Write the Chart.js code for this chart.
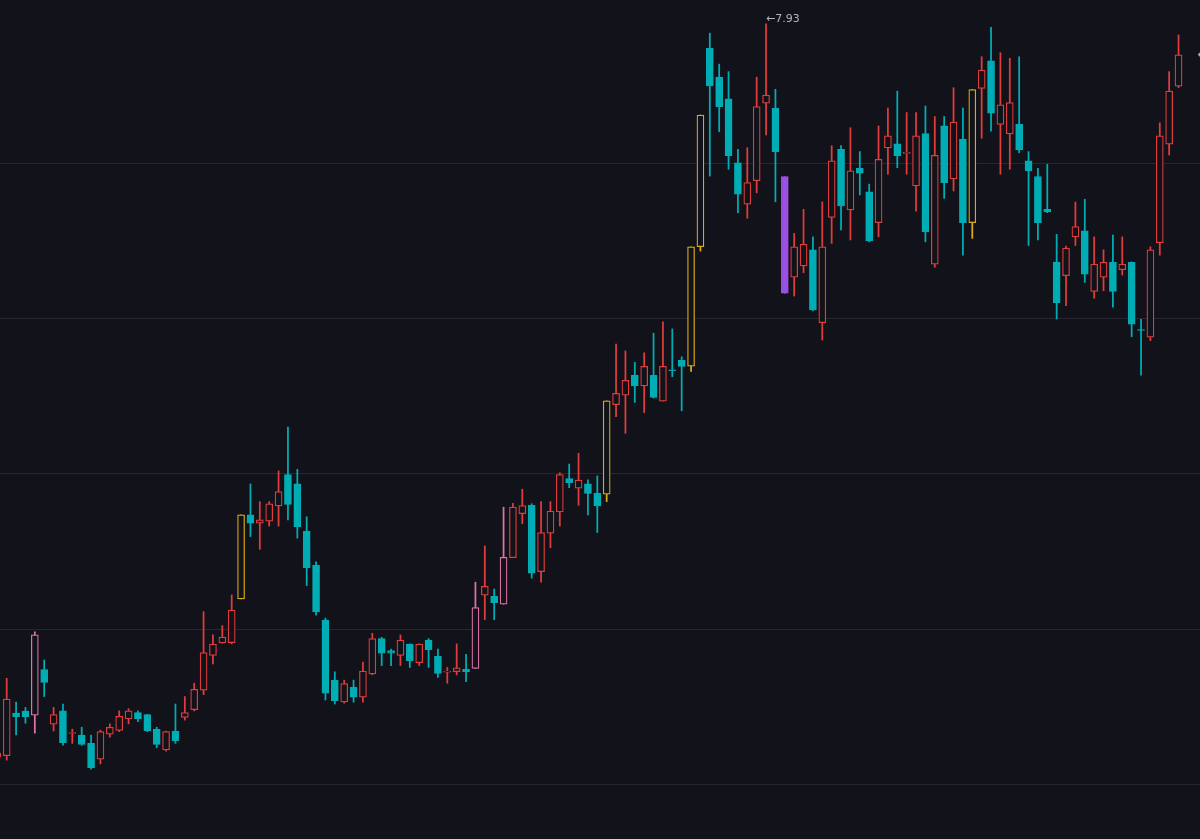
<!DOCTYPE html>
<html>
<head>
<meta charset="utf-8">
<script src="https://cdn.jsdelivr.net/npm/chart.js@4.4.1/dist/chart.umd.min.js"></script>
<style>
  html, body { margin: 0; padding: 0; background: #12131a; }
  #wrap { width: 1200px; height: 839px; position: relative; }
</style>
</head>
<body>
<div id="wrap"><canvas id="candles"></canvas></div>
<script>
// daily bars, oldest first (first one is cut by the left edge)
const openV = [
  5.587, 5.591, 5.729, 5.735, 5.722, 5.869, 5.693, 5.736, 5.663, 5.658,
  5.631, 5.580, 5.661, 5.673, 5.710, 5.730, 5.724, 5.676, 5.610, 5.670,
  5.715, 5.740, 5.803, 5.915, 5.955, 5.956, 6.097, 6.368, 6.341, 6.348,
  6.397, 6.498, 6.468, 6.316, 6.205, 6.029, 5.835, 5.765, 5.812, 5.780,
  5.855, 5.969, 5.930, 5.915, 5.951, 5.891, 5.964, 5.912, 5.861, 5.862,
  5.870, 5.873, 6.109, 6.105, 6.080, 6.230, 6.372, 6.399, 6.185, 6.309,
  6.378, 6.485, 6.454, 6.468, 6.438, 6.435, 6.724, 6.754, 6.818, 6.784,
  6.818, 6.735, 6.836, 6.867, 6.848, 7.233, 7.873, 7.780, 7.710, 7.504,
  7.370, 7.446, 7.696, 7.680, 7.459, 7.135, 7.171, 7.223, 6.988, 7.328,
  7.547, 7.352, 7.486, 7.410, 7.311, 7.552, 7.565, 7.534, 7.429, 7.598,
  7.177, 7.623, 7.452, 7.580, 7.311, 7.744, 7.833, 7.628, 7.597, 7.628,
  7.510, 7.459, 7.354, 7.184, 7.140, 7.265, 7.284, 7.089, 7.135, 7.183,
  7.159, 7.183, 6.966, 6.941, 7.246, 7.564, 7.751
];
const highV = [
  5.610, 5.841, 5.764, 5.747, 5.991, 5.900, 5.747, 5.758, 5.677, 5.683,
  5.658, 5.674, 5.694, 5.736, 5.743, 5.736, 5.725, 5.683, 5.671, 5.758,
  5.782, 5.825, 6.056, 5.981, 6.011, 6.110, 6.368, 6.468, 6.411, 6.411,
  6.510, 6.651, 6.515, 6.362, 6.217, 6.035, 5.862, 5.835, 5.835, 5.893,
  5.986, 5.973, 5.935, 5.981, 5.952, 5.952, 5.969, 5.935, 5.876, 5.952,
  5.918, 6.151, 6.268, 6.129, 6.393, 6.405, 6.451, 6.404, 6.411, 6.411,
  6.504, 6.532, 6.567, 6.481, 6.494, 6.736, 6.919, 6.897, 6.860, 6.891,
  6.954, 6.991, 6.968, 6.878, 7.233, 7.658, 7.922, 7.822, 7.798, 7.547,
  7.553, 7.780, 7.952, 7.741, 7.459, 7.276, 7.354, 7.265, 7.378, 7.559,
  7.559, 7.617, 7.540, 7.435, 7.623, 7.680, 7.735, 7.666, 7.666, 7.687,
  7.653, 7.653, 7.746, 7.680, 7.740, 7.846, 7.941, 7.859, 7.841, 7.846,
  7.540, 7.486, 7.499, 7.273, 7.235, 7.377, 7.386, 7.265, 7.223, 7.271,
  7.265, 7.184, 6.999, 7.233, 7.633, 7.798, 7.916
];
const lowV = [
  5.577, 5.577, 5.658, 5.696, 5.664, 5.782, 5.671, 5.625, 5.631, 5.625,
  5.548, 5.565, 5.651, 5.669, 5.694, 5.701, 5.669, 5.617, 5.606, 5.631,
  5.706, 5.736, 5.788, 5.887, 5.954, 5.952, 6.097, 6.298, 6.257, 6.332,
  6.332, 6.352, 6.293, 6.140, 6.045, 5.771, 5.758, 5.761, 5.764, 5.764,
  5.852, 5.882, 5.882, 5.882, 5.876, 5.882, 5.876, 5.844, 5.825, 5.852,
  5.830, 5.873, 6.030, 6.030, 6.080, 6.230, 6.340, 6.164, 6.151, 6.262,
  6.332, 6.456, 6.399, 6.368, 6.311, 6.411, 6.685, 6.631, 6.731, 6.698,
  6.745, 6.735, 6.814, 6.704, 6.831, 7.219, 7.461, 7.604, 7.483, 7.343,
  7.325, 7.407, 7.594, 7.378, 7.083, 7.074, 7.149, 7.026, 6.932, 7.244,
  7.287, 7.255, 7.400, 7.249, 7.265, 7.467, 7.488, 7.467, 7.348, 7.249,
  7.167, 7.389, 7.413, 7.206, 7.260, 7.583, 7.606, 7.467, 7.483, 7.536,
  7.237, 7.255, 7.343, 7.000, 7.043, 7.237, 7.118, 7.067, 7.091, 7.038,
  7.142, 6.943, 6.819, 6.930, 7.206, 7.529, 7.746
];
const closeV = [
  5.600, 5.774, 5.716, 5.716, 5.981, 5.828, 5.724, 5.633, 5.666, 5.628,
  5.553, 5.669, 5.683, 5.718, 5.736, 5.710, 5.672, 5.628, 5.669, 5.640,
  5.730, 5.805, 5.924, 5.951, 5.974, 6.061, 6.368, 6.341, 6.352, 6.404,
  6.443, 6.402, 6.330, 6.198, 6.055, 5.793, 5.768, 5.824, 5.780, 5.864,
  5.969, 5.922, 5.922, 5.964, 5.898, 5.951, 5.933, 5.857, 5.864, 5.875,
  5.862, 6.069, 6.138, 6.085, 6.231, 6.393, 6.398, 6.180, 6.311, 6.380,
  6.498, 6.472, 6.480, 6.437, 6.397, 6.736, 6.760, 6.802, 6.784, 6.847,
  6.747, 6.847, 6.833, 6.847, 7.233, 7.658, 7.752, 7.685, 7.527, 7.403,
  7.440, 7.685, 7.722, 7.540, 7.083, 7.233, 7.241, 7.029, 7.233, 7.510,
  7.365, 7.478, 7.470, 7.252, 7.515, 7.591, 7.527, 7.537, 7.591, 7.282,
  7.528, 7.440, 7.635, 7.311, 7.740, 7.803, 7.664, 7.691, 7.698, 7.545,
  7.478, 7.311, 7.345, 7.053, 7.229, 7.298, 7.145, 7.177, 7.183, 7.089,
  7.177, 6.983, 6.963, 7.223, 7.591, 7.735, 7.852
];
const bars = openV.map((_, i) => i);

// bars painted in a signal colour
const yellowBars = [26, 65, 74, 75, 104];
const pinkBars = [4, 51, 54];
const purpleBars = [84];

const gridValues = [5.5, 6.0, 6.5, 7.0, 7.5];
const highLabel = "\u2190" + "7.93";
const lastLabel = "\u2190" + "7.85";

const BG = "#12131a";
const RED = "#e03c3c";
const TEAL = "#00adb5";
const YELLOW = "#dcaa14";
const PINK = "#dc72a6";
const PURPLE = "#9b4fe3";

function candleColor(i) {
  if (yellowBars.includes(i)) return YELLOW;
  if (pinkBars.includes(i)) return PINK;
  if (purpleBars.includes(i)) return PURPLE;
  return closeV[i] >= openV[i] ? RED : TEAL;
}
function isHollow(i) {
  return !purpleBars.includes(i) && closeV[i] >= openV[i];
}

const labelPlugin = {
  id: "priceLabels",
  afterDatasetsDraw(chart) {
    const { ctx, scales: { x, y } } = chart;
    ctx.save();
    ctx.font = '11px "DejaVu Sans", sans-serif';
    ctx.fillStyle = "#b2b5be";
    ctx.textBaseline = "middle";
    ctx.textAlign = "left";
    const top = highV.indexOf(Math.max(...highV));
    ctx.fillText(highLabel, x.getPixelForValue(bars[top]), y.getPixelForValue(highV[top]) - 5);
    const last = bars.length - 1;
    ctx.fillText(lastLabel, x.getPixelForValue(bars[last] + 2), y.getPixelForValue(closeV[last]));
    ctx.restore();
  }
};

new Chart(document.getElementById("candles"), {
  type: "bar",
  data: {
    datasets: [
      {
        // bodies
        data: bars.map(i => ({ x: i, y: [openV[i], closeV[i]] })),
        backgroundColor: c => isHollow(c.dataIndex) ? BG : candleColor(c.dataIndex),
        borderColor: c => candleColor(c.dataIndex),
        borderWidth: 1.25,
        borderSkipped: false,
        minBarLength: 1,
        grouped: false,
        categoryPercentage: 1,
        barPercentage: 1,
        maxBarThickness: 7,
        order: 0
      },
      {
        // wicks
        data: bars.map(i => ({ x: i, y: [lowV[i], highV[i]] })),
        backgroundColor: c => candleColor(c.dataIndex),
        borderWidth: 0,
        grouped: false,
        categoryPercentage: 1,
        barPercentage: 1,
        maxBarThickness: 1.1,
        order: 1
      }
    ]
  },
  options: {
    responsive: true,
    maintainAspectRatio: false,
    animation: false,
    events: [],
    layout: { padding: 0 },
    plugins: {
      legend: { display: false },
      tooltip: { enabled: false }
    },
    scales: {
      x: {
        type: "linear",
        min: 0.285,
        max: 128.29,
        offset: false,
        display: false
      },
      y: {
        min: 5.3226,
        max: 8.029,
        afterBuildTicks: s => { s.ticks = gridValues.map(v => ({ value: v })); },
        border: { display: false },
        grid: { color: "#262730", drawTicks: false },
        ticks: { display: false }
      }
    }
  },
  plugins: [labelPlugin]
});
</script>
</body>
</html>
